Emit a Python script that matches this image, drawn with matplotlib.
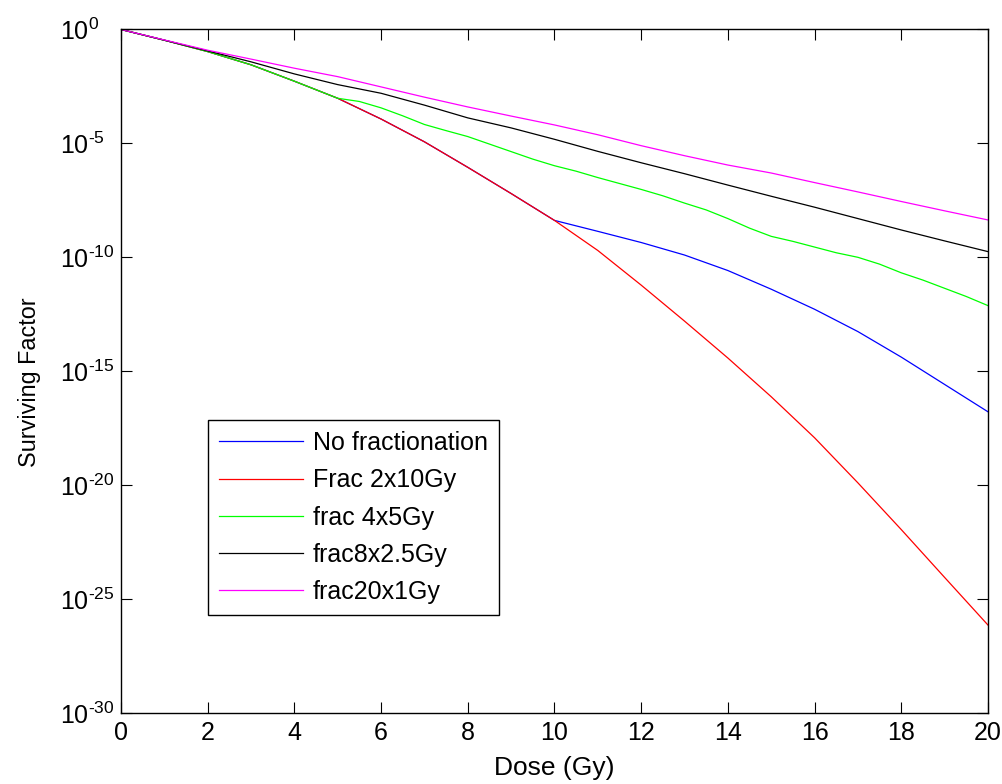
import numpy as np
import matplotlib
matplotlib.use('Agg')
import matplotlib.pyplot as plt
from matplotlib.ticker import NullLocator, FuncFormatter

plt.rcParams['font.family'] = ['Liberation Sans', 'DejaVu Sans']
plt.rcParams['mathtext.fontset'] = 'custom'
plt.rcParams['mathtext.rm'] = 'Liberation Sans'
plt.rcParams['axes.unicode_minus'] = False

# dose axis (Gy) and log10 of surviving fraction for each scheme
dose = list(range(0, 21))

log_no_frac = [0, -0.47, -0.97, -1.55, -2.27, -3.02, -3.93, -4.93, -6.05, -7.20, -8.38,
               -8.86, -9.35, -9.90, -10.58, -11.40, -12.28, -13.26, -14.38, -15.58, -16.78]
log_frac_2x10 = [0, -0.47, -0.97, -1.55, -2.27, -3.02, -3.93, -4.93, -6.05, -7.20, -8.38,
                 -9.70, -11.22, -12.80, -14.42, -16.12, -17.92, -19.90, -21.95, -24.05, -26.14]

dose_4x5 = [0, 1, 2, 3, 4, 5, 5.5, 6, 6.5, 7, 7.5, 8, 8.5, 9, 9.5, 10, 10.5, 11, 11.5, 12, 12.5,
            13, 13.5, 14, 14.5, 15, 15.5, 16, 16.5, 17, 17.5, 18, 18.5, 19, 19.5, 20]
log_frac_4x5 = [0, -0.47, -0.97, -1.55, -2.27, -3.02, -3.16, -3.44, -3.79, -4.17, -4.44, -4.70,
                -5.03, -5.36, -5.69, -5.98, -6.22, -6.50, -6.76, -7.02, -7.30, -7.62, -7.92,
                -8.30, -8.72, -9.08, -9.30, -9.55, -9.80, -10.00, -10.30, -10.68, -11.00,
                -11.36, -11.72, -12.12]

log_frac_8x25 = [0, -0.47, -0.94, -1.42, -1.95, -2.42, -2.80, -3.32, -3.88, -4.32, -4.82,
                 -5.35, -5.85, -6.33, -6.83, -7.32, -7.80, -8.30, -8.80, -9.28, -9.75]
log_frac_20x1 = [0, -0.46, -0.91, -1.30, -1.70, -2.07, -2.52, -2.97, -3.40, -3.80, -4.19,
                 -4.62, -5.10, -5.54, -5.95, -6.30, -6.72, -7.13, -7.55, -7.96, -8.36]

labels = ['No fractionation', 'Frac 2x10Gy', 'frac 4x5Gy', 'frac8x2.5Gy', 'frac20x1Gy']
colors = ['#0000ff', '#ff0000', '#00ff00', '#000000', '#ff00ff']


def pow10_label(val, pos):
    # short hyphen in the exponent instead of mathtext's wide minus sign
    e = int(round(np.log10(val)))
    s = str(abs(e))
    if e < 0:
        s = '\u2010' + s
    return r'$\mathdefault{10^{%s}}$' % s


fig = plt.figure(figsize=(10.03, 7.84), dpi=100)
ax = fig.add_axes([0.1206, 0.0906, 0.8644, 0.8718])

series = [(dose, log_no_frac), (dose, log_frac_2x10), (dose_4x5, log_frac_4x5),
          (dose, log_frac_8x25), (dose, log_frac_20x1)]
for (d, lg), lab, c in zip(series, labels, colors):
    ax.semilogy(d, 10.0 ** np.array(lg), color=c, lw=0.9, label=lab)

ax.set_xlim(0, 20)
ax.set_ylim(1e-30, 1)
ax.set_xticks(range(0, 21, 2))
ax.set_yticks([10.0 ** e for e in range(-30, 1, 5)])
ax.yaxis.set_minor_locator(NullLocator())
ax.yaxis.set_major_formatter(FuncFormatter(pow10_label))
ax.tick_params(direction='in', length=8, width=0.8, top=True, right=True, labelsize=18)
ax.tick_params(axis='x', pad=6)
# y labels start at a fixed x so the "10" bases line up
ax.tick_params(axis='y', pad=44)
for t in ax.yaxis.get_major_ticks():
    t.label1.set_horizontalalignment('left')
for sp in ax.spines.values():
    sp.set_linewidth(1.0)

ax.set_xlabel('Dose (Gy)', fontsize=19, labelpad=8)
ax.set_ylabel('Surviving Factor', fontsize=16.8)
ax.yaxis.set_label_coords(-0.092, 0.484)

leg = ax.legend(loc='upper left', bbox_to_anchor=(0.1003, 0.4287), borderaxespad=0,
                fontsize=18, fancybox=False, framealpha=1, edgecolor='black',
                handlelength=3.35, handletextpad=0.4, borderpad=0.45, labelspacing=0.53)
leg.get_frame().set_linewidth(1.0)

fig.savefig('out.png', dpi=100)
